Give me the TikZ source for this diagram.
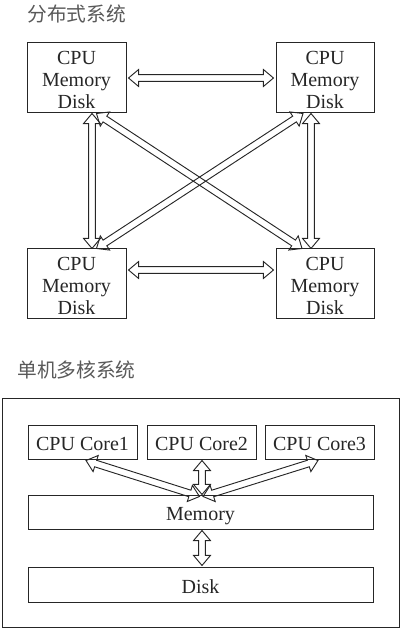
\documentclass[tikz,border=0pt]{standalone}
\usepackage{fontspec}
\setmainfont{Liberation Serif}
\newfontfamily\cjk{Noto Sans CJK SC}
\usetikzlibrary{shapes.arrows,calc}
\tikzset{
 box/.style={draw=black!85, line width=0.75pt, inner sep=0pt, align=center,
   font=\fontsize{15}{16.5}\selectfont, text=black!85},
 onebox/.style={box, text height=13pt, text depth=0pt},
 harr/.style={double arrow, draw=black!85, line width=0.7pt, inner xsep=0pt,
   inner ysep=2.2pt, minimum width=12pt, double arrow head extend=3.8pt,
   double arrow tip angle=80, anchor=center},
 ttl/.style={font=\cjk\fontsize{14.8}{18}\selectfont, text=black!65, anchor=west, inner sep=0pt}
}
\newcommand\hollowarrow[2]{\path let \p1=($(#2)-(#1)$), \n1={veclen(\x1,\y1)}, \n2={atan2(\y1,\x1)} in node[harr, minimum height=\n1, rotate=\n2] at ($(#1)!0.5!(#2)$) {};}
\newcommand\threelines{\rule{0pt}{13pt}CPU\\Memory\\Disk}
\begin{document}
\begin{tikzpicture}[x=0.75pt,y=-0.75pt]
\useasboundingbox (0,0) rectangle (402,630);
% top section
\node[ttl] (t1) at (27,14) {分布式系统};
\node[box, minimum width=74.25pt, minimum height=52.5pt] (tl) at (76.5,78) {\threelines};
\node[box, minimum width=73.5pt, minimum height=52.5pt] (tr) at (325,78) {\threelines};
\node[box, minimum width=74.25pt, minimum height=51.75pt] (bl) at (76.5,283.5) {\threelines};
\node[box, minimum width=73.5pt, minimum height=51.75pt] (br) at (325,283.5) {\threelines};
\coordinate (a1) at ($(tl.east)+(2,0)$);
\coordinate (a2) at ($(tr.west)+(-2,0)$);
\coordinate (b1) at ($(bl.east)+(2,-13.5)$);
\coordinate (b2) at ($(br.west)+(-2,-13.5)$);
\coordinate (v1) at ($(tl.south)+(15.5,0)$);
\coordinate (v2) at ($(bl.north)+(15.5,0)$);
\coordinate (w1) at ($(tr.south)+(-14,0)$);
\coordinate (w2) at ($(br.north)+(-14,0)$);
\coordinate (d1) at ($(tl.south)+(20,0)$);
\coordinate (d2) at ($(br.north)+(-23,0)$);
\coordinate (e1) at ($(tr.south)+(-22,0)$);
\coordinate (e2) at ($(bl.north)+(20,0)$);
\hollowarrow{a1}{a2}
\hollowarrow{b1}{b2}
\hollowarrow{v1}{v2}
\hollowarrow{w1}{w2}
\hollowarrow{d1}{d2}
\hollowarrow{e1}{e2}
% bottom section
\node[ttl] (t2) at (17,370) {单机多核系统};
\node[draw=black!85, line width=0.75pt, minimum width=297.75pt, minimum height=171.75pt, inner sep=0pt] (outer) at (200.5,512.5) {};
\node[onebox, minimum width=81.75pt, minimum height=25.5pt] (c1) at (82.5,442) {CPU Core1};
\node[onebox, minimum width=81.75pt, minimum height=25.5pt] (c2) at (201.5,442) {CPU Core2};
\node[onebox, minimum width=81.75pt, minimum height=25.5pt] (c3) at (319.5,442) {CPU Core3};
\node[onebox, minimum width=258.75pt, minimum height=25.5pt] (mem) at (200.5,512) {Memory};
\node[onebox, minimum width=258.75pt, minimum height=26.25pt] (disk) at (200.5,584.5) {Disk};
\coordinate (k1) at ($(c1.south)+(3.5,1)$);
\coordinate (k2) at ($(c2.south)+(0.5,1)$);
\coordinate (k3) at ($(c3.south)+(-1.5,1)$);
\coordinate (mc1) at ($(mem.north)+(-1,2)$);
\coordinate (mc2) at ($(mem.north)+(1.5,0)$);
\coordinate (mc3) at ($(mem.north)+(2.5,2)$);
\coordinate (md1) at ($(mem.south)+(1.5,1)$);
\coordinate (md2) at ($(disk.north)+(1.5,-1)$);
\hollowarrow{k1}{mc1}
\hollowarrow{k2}{mc2}
\hollowarrow{k3}{mc3}
\hollowarrow{md1}{md2}
\end{tikzpicture}
\end{document}
